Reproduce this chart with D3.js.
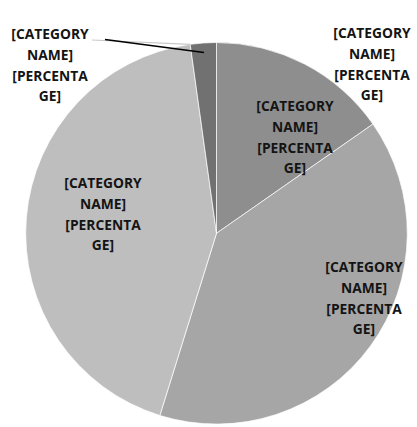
<!DOCTYPE html>
<html>
<head>
<meta charset="utf-8">
<script src="https://cdn.jsdelivr.net/npm/d3@7"></script>
<style>
  html, body { margin: 0; padding: 0; background: #fff; }
  svg { display: block; }
</style>
</head>
<body>
<svg id="chart" width="417" height="427"></svg>
<script>
// Slice shares, clockwise from 12 o'clock
const categories = ["A", "B", "C", "D", "E"];
const values = [15.3, 39.5, 43.0, 2.2, 0];
const colors = ["#8e8e8e", "#a6a6a6", "#bebebe", "#717171", "#d9d9d9"];
const labelLines = ["[CATEGORY", "NAME]", "[PERCENTA", "GE]"];

// Label anchor (centre of first line) for each slice
const labelAnchors = [
  [295, 106], [364, 267], [103, 183], [50, 34], [372, 33]
];

const width = 417, height = 427;
const cx = 216.5, cy = 233.3, radius = 190.8;

const svg = d3.select("#chart");
const g = svg.append("g").attr("transform", `translate(${cx},${cy})`);

const pie = d3.pie().sort(null).value(d => d.value);
const arcs = pie(categories.map((c, i) => ({ name: c, value: values[i], color: colors[i] })));
const arc = d3.arc().innerRadius(0).outerRadius(radius);

g.selectAll("path.slice")
  .data(arcs.filter(d => d.data.value > 0))
  .join("path")
  .attr("class", "slice")
  .attr("d", arc)
  .attr("fill", d => d.data.color)
  .attr("stroke", "#ffffff")
  .attr("stroke-width", 0.7);

// Leader lines for the small slice at the top
const small = arcs[3];
const mid = (small.startAngle + small.endAngle) / 2;
const tip = [Math.sin(mid) * radius * 0.95, -Math.cos(mid) * radius * 0.95];
const topEdge = [Math.sin(small.startAngle) * radius, -Math.cos(small.startAngle) * radius];

g.append("line")
  .attr("x1", 92 - cx).attr("y1", 40 - cy)
  .attr("x2", topEdge[0]).attr("y2", topEdge[1])
  .attr("stroke", "#c8c8c8").attr("stroke-width", 1.2);

g.append("line")
  .attr("x1", 105 - cx).attr("y1", 39.5 - cy)
  .attr("x2", tip[0]).attr("y2", tip[1])
  .attr("stroke", "#000").attr("stroke-width", 1.5);

// Data labels
const lineGap = 20.8;
arcs.forEach((d, i) => {
  const [lx, ly] = labelAnchors[i];
  const t = svg.append("text")
    .attr("text-anchor", "middle")
    .attr("font-family", "'Open Sans', sans-serif")
    .attr("font-weight", "bold")
    .attr("font-size", "13.8px")
    .attr("fill", "#141414");
  labelLines.forEach((s, k) => {
    t.append("tspan")
      .attr("x", lx)
      .attr("y", ly + k * lineGap)
      .attr("dy", "0.36em")
      .text(s);
  });
});
</script>
</body>
</html>
